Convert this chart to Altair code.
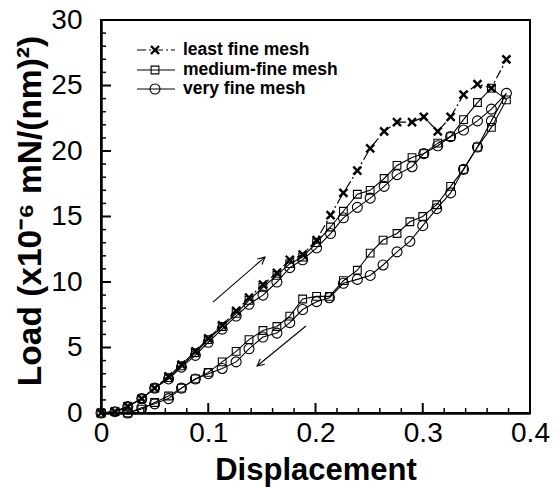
import altair as alt
import pandas as pd

# ---- data ----
load_x = [0, 0.013, 0.025, 0.038, 0.050, 0.063, 0.075, 0.088, 0.100, 0.113,
          0.126, 0.138, 0.151, 0.164, 0.176, 0.188, 0.201, 0.214, 0.226, 0.239,
          0.251, 0.264, 0.276, 0.290, 0.301, 0.314, 0.326, 0.338, 0.351, 0.364, 0.378]
least_fine_y = [0, 0.1, 0.5, 1.1, 1.9, 2.8, 3.7, 4.7, 5.7, 6.7,
                7.8, 8.8, 9.8, 10.7, 11.7, 12.1, 13.2, 15.1, 16.8, 18.5,
                20.2, 21.5, 22.2, 22.2, 22.6, 21.5, 22.6, 24.3, 25.1, 24.8, 27.0]
medium_load_y = [0, 0.1, 0.5, 1.1, 1.9, 2.7, 3.6, 4.6, 5.6, 6.6,
                 7.6, 8.6, 9.6, 10.5, 11.4, 11.9, 13.0, 14.2, 15.4, 16.7,
                 17.0, 17.9, 18.9, 19.5, 19.8, 20.6, 21.1, 22.4, 23.7, 24.8, 23.9]
fine_load_y = [0, 0.1, 0.5, 1.1, 1.9, 2.6, 3.5, 4.4, 5.4, 6.4,
               7.4, 8.3, 9.0, 10.0, 11.1, 11.7, 12.6, 13.7, 14.9, 15.7,
               16.4, 17.3, 18.2, 18.8, 19.8, 20.4, 21.1, 21.6, 22.3, 23.2, 24.4]
unload_x = [0.364, 0.351, 0.338, 0.326, 0.313, 0.300, 0.288, 0.276, 0.263, 0.251,
            0.239, 0.226, 0.213, 0.201, 0.188, 0.176, 0.164, 0.151, 0.138, 0.126,
            0.113, 0.100, 0.088, 0.075, 0.063, 0.050, 0.038, 0.025]
medium_unload_y = [21.8, 20.3, 18.6, 17.3, 15.9, 15.0, 14.6, 13.7, 13.2, 12.2,
                   10.9, 10.1, 8.9, 8.9, 8.7, 7.4, 6.6, 6.3, 5.6, 4.7,
                   3.9, 3.1, 2.6, 1.9, 1.3, 0.8, 0.3, 0.0]
fine_unload_y = [22.3, 20.3, 18.6, 16.8, 15.6, 14.3, 13.1, 12.3, 11.3, 10.5,
                 10.2, 9.9, 8.8, 8.5, 7.9, 6.9, 6.1, 5.8, 4.9, 3.9,
                 3.4, 3.0, 2.6, 1.9, 1.1, 0.7, 0.4, 0.0]

legend_labels = ["least fine mesh", "medium-fine mesh", "very fine mesh"]
y_title = "Load  (x10⁻⁶ mN/(nm)²)"

x_ticks_major = [0, 0.1, 0.2, 0.3, 0.4]
x_ticks_minor = [0.02, 0.04, 0.06, 0.08, 0.12, 0.14, 0.16, 0.18, 0.22, 0.24,
                 0.26, 0.28, 0.32, 0.34, 0.36, 0.38]
y_ticks_major = [0, 5, 10, 15, 20, 25, 30]
y_ticks_minor = [1, 2, 3, 4, 6, 7, 8, 9, 11, 12, 13, 14, 16, 17, 18, 19,
                 21, 22, 23, 24, 26, 27, 28, 29]

# arrows (start x, start y, tip x, tip y) in data units
arrow_load = [0.1044, 8.47, 0.1529, 11.9]
arrow_unload = [0.1911, 6.64, 0.1455, 3.59]


def curve(xs, ys, start=0):
    return pd.DataFrame({"x": xs, "y": ys, "o": list(range(start, start + len(xs)))})


lf = curve(load_x, least_fine_y)
md = pd.concat([curve(load_x, medium_load_y), curve(unload_x, medium_unload_y, 100)])
vf = pd.concat([curve(load_x, fine_load_y), curve(unload_x, fine_unload_y, 100)])

FONT = "Liberation Sans"
xs = alt.Scale(domain=[0, 0.4], nice=False, zero=False)
ys = alt.Scale(domain=[0, 30], nice=False, zero=False)

X = alt.X("x:Q", scale=xs, axis=alt.Axis(
    values=x_ticks_major, format=".1~f", ticks=False, grid=False,
    labelFont=FONT, labelFontSize=28, labelColor="black", labelPadding=6,
    labelFlush=False, labelOverlap=False,
    domainColor="black", domainWidth=2.5,
    title="Displacement", titleFont=FONT, titleFontSize=31, titleFontWeight="bold",
    titleColor="black", titleX=214.5, titleY=66, titleAlign="center",
    titleBaseline="alphabetic"))
Y = alt.Y("y:Q", scale=ys, axis=alt.Axis(
    values=y_ticks_major, format="d", ticks=False, grid=False,
    labelFont=FONT, labelFontSize=28, labelColor="black", labelPadding=19,
    labelFlush=False, labelOverlap=False,
    domainColor="black", domainWidth=2.5, title=None))

layers = []

# curves
layers.append(alt.Chart(lf).mark_line(color="black", strokeWidth=1.2, strokeDash=[9, 3, 2, 3])
              .encode(x=X, y=Y, order="o:Q"))
layers.append(alt.Chart(md).mark_line(color="black", strokeWidth=1.1).encode(x=X, y=Y, order="o:Q"))
layers.append(alt.Chart(vf).mark_line(color="black", strokeWidth=1.1).encode(x=X, y=Y, order="o:Q"))

XSHAPE = "M -1 -1 L 1 1 M -1 1 L 1 -1"
layers.append(alt.Chart(lf).mark_point(shape=XSHAPE, filled=False, color="black",
                                       strokeWidth=2.4, size=64, opacity=1).encode(x=X, y=Y))
layers.append(alt.Chart(md).mark_point(shape="square", filled=False, color="black",
                                       strokeWidth=1.1, size=60, opacity=1).encode(x=X, y=Y))
layers.append(alt.Chart(vf).mark_point(shape="circle", filled=False, color="black",
                                       strokeWidth=1.1, size=100, opacity=1).encode(x=X, y=Y))

# inward ticks
layers.append(alt.Chart(pd.DataFrame({"y": y_ticks_major})).mark_rule(color="black", strokeWidth=2)
              .encode(y=Y, x=alt.value(0), x2=alt.value(10)))
layers.append(alt.Chart(pd.DataFrame({"y": y_ticks_minor})).mark_rule(color="black", strokeWidth=1.5)
              .encode(y=Y, x=alt.value(0), x2=alt.value(5)))
layers.append(alt.Chart(pd.DataFrame({"x": x_ticks_major})).mark_rule(color="black", strokeWidth=2)
              .encode(x=X, y=alt.value(393), y2=alt.value(383)))
layers.append(alt.Chart(pd.DataFrame({"x": x_ticks_minor})).mark_rule(color="black", strokeWidth=1.5)
              .encode(x=X, y=alt.value(393), y2=alt.value(388)))

# arrows
HEAD = "M -0.5 1 L 0 0 L 0.5 1"
for arr, ang in ((arrow_load, 49), (arrow_unload, 231)):
    d = pd.DataFrame({"x": [arr[0]], "y": [arr[1]], "x2": [arr[2]], "y2": [arr[3]]})
    layers.append(alt.Chart(d).mark_rule(color="black", strokeWidth=1.1)
                  .encode(x=X, y=Y, x2="x2:Q", y2="y2:Q"))
    h = pd.DataFrame({"x": [arr[2]], "y": [arr[3]]})
    layers.append(alt.Chart(h).mark_point(shape=HEAD, filled=False, color="black",
                                          strokeWidth=1.1, size=200, angle=ang, opacity=1)
                  .encode(x=X, y=Y))

# legend
legend_styles = [
    dict(dash=[9, 3, 2, 3], shape=XSHAPE, size=64, sw=2.4),
    dict(dash=None, shape="square", size=60, sw=1.1),
    dict(dash=None, shape="circle", size=100, sw=1.1),
]
row_y = [30, 50, 69]
base = alt.Chart(pd.DataFrame({"label": ["_"]}))
for lab, st, ry in zip(legend_labels, legend_styles, row_y):
    rule_kw = dict(color="black", strokeWidth=1.1)
    if st["dash"]:
        rule_kw["strokeDash"] = st["dash"]
    layers.append(base.mark_rule(**rule_kw).encode(
        x=alt.value(36), x2=alt.value(74), y=alt.value(ry)))
    layers.append(base.mark_point(shape=st["shape"], filled=False, color="black",
                                  strokeWidth=st["sw"], size=st["size"], opacity=1)
                  .encode(x=alt.value(54), y=alt.value(ry)))
    layers.append(alt.Chart(pd.DataFrame({"label": [lab]})).mark_text(
        align="left", baseline="middle", font=FONT, fontSize=17.5, fontWeight="bold",
        color="black").encode(text="label:N", x=alt.value(82), y=alt.value(ry)))

# y-axis title as a rotated text
layers.append(alt.Chart(pd.DataFrame({"label": [y_title]})).mark_text(
    align="center", baseline="middle", angle=270, font=FONT, fontSize=33.5,
    fontWeight="bold", color="black").encode(
    text="label:N", x=alt.value(-70), y=alt.value(191)))

chart = alt.layer(*layers).properties(
    width=429, height=393,
    autosize=alt.AutoSizeParams(type="none"),
    padding={"left": 93, "top": 12, "right": 22, "bottom": 74},
    background="white",
).configure_view(stroke="black", strokeWidth=2)

chart.save("out.html", embed_options={"renderer": "svg", "actions": False})
